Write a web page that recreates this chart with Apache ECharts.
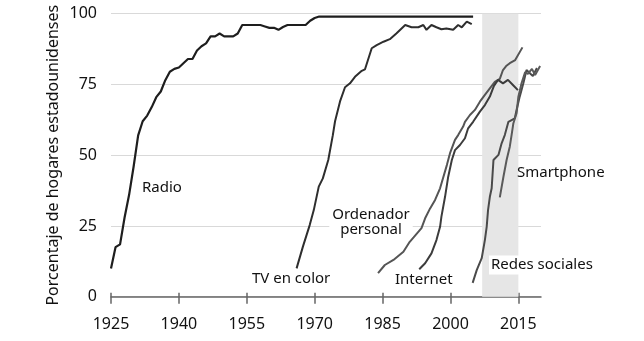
<!DOCTYPE html>
<html><head><meta charset="utf-8">
<script src="https://cdn.jsdelivr.net/npm/echarts@6/dist/echarts.min.js"></script>
<style>html,body{margin:0;padding:0;background:#fff}#c{width:644px;height:341px}</style>
</head><body><div id="c"></div>
<script>
const xTicks = [1925, 1940, 1955, 1970, 1985, 2000, 2015];
const yTicks = [0, 25, 50, 75, 100];
const shadeRange = [2007, 2015];
const yTitle = 'Porcentaje de hogares estadounidenses';

const radio = [[1925,10],[1926,17.5],[1927,18.5],[1928,28],[1929,36],[1930,46],[1931,57],[1932,62],[1933,64],[1934,67],[1935,70.5],[1936,72.5],[1937,76.5],[1938,79.5],[1939,80.5],[1940,81],[1941,82.5],[1942,84],[1943,84],[1944,87],[1945,88.5],[1946,89.5],[1947,92],[1948,92],[1949,93],[1950,92],[1951,92],[1952,92],[1953,93],[1954,96],[1958,96],[1959,95.5],[1960,95],[1961,95],[1962,94.3],[1963,95.3],[1964,96],[1968,96],[1969,97.5],[1970,98.5],[1971,99],[2005,99]];
const tvColor = [[1966,10],[1967.4,17.7],[1968.9,25.3],[1969.8,30.6],[1970.9,38.9],[1971.8,41.8],[1973,48.3],[1974,57],[1974.5,62],[1975.6,69],[1976.7,74],[1977.8,75.4],[1978.9,77.7],[1980.4,79.8],[1981.1,80.3],[1982.6,87.8],[1983.7,88.9],[1985.2,90.1],[1986.6,91],[1988.1,93.1],[1990,96],[1991.4,95.2],[1992.9,95.2],[1994,96],[1994.7,94.3],[1995.8,96],[1996.9,95.2],[1998,94.5],[1999.1,94.8],[2000.6,94.3],[2001.7,96],[2002.5,95.2],[2003.6,97.2],[2004.7,96.3]];
const computer = [[1984,8.3],[1985.5,11.2],[1987.4,13],[1989.6,15.9],[1991,19.4],[1993.6,24.2],[1994.4,27.7],[1995.5,31.2],[1996.6,34.2],[1997.7,38.3],[1999.2,46.5],[1999.9,50.7],[2001,55.4],[2001.7,57.1],[2002.8,60.1],[2003.2,61.8],[2004.3,64.2],[2005.4,66],[2006.5,68.9],[2007.6,71.3],[2008.7,73.6],[2009.8,75.9],[2010.9,77],[2011.6,80.1],[2012.3,81.5],[2013.1,82.5],[2014.3,83.6],[2015.9,88.1]];
const internet = [[1993.1,9.7],[1994.4,11.8],[1995.8,15.3],[1996.9,20],[1997.7,24.7],[1998,28.3],[1998.8,35.3],[1999.5,42.4],[2000.3,48.3],[2001,51.8],[2002.1,53.6],[2003.2,56],[2003.9,59.5],[2005,61.8],[2006.5,65.4],[2007.6,67.7],[2008.7,70.7],[2009.6,74.5],[2010.5,76.6],[2011.6,75.4],[2012.7,76.6],[2013.8,74.8],[2014.9,73]];
const social = [[2004.9,4.9],[2005.8,9.4],[2006.9,13.6],[2007.6,20],[2008,24.7],[2008.3,30.6],[2008.7,35.3],[2009.1,38.3],[2009.5,48.3],[2010.6,50.1],[2011.3,54.2],[2012,57.1],[2012.8,61.8],[2014.2,63],[2014.6,66],[2015.3,70.7],[2016.1,75.4],[2016.8,80.1],[2017.6,78.9],[2018.2,78],[2019.1,80.8]];
const smartphone = [[2010.9,35.1],[2011.7,42.4],[2012.4,48.3],[2013.1,53],[2013.5,57.1],[2013.9,61.3],[2014.6,64.8],[2015,70.7],[2015.7,75.4],[2016.5,79.4],[2017.1,78.7],[2018,80.5],[2018.7,78.3],[2019.8,81.5]];

const F = '"Noto Sans", sans-serif';
const chart = echarts.init(document.getElementById('c'), null, {renderer: 'canvas'});

function line(name, data, color, width) {
  return {name, type: 'line', data, symbol: 'none', lineStyle: {color, width}, z: 3, silent: true, animation: false};
}
function label(text, x, y, opts) {
  return Object.assign({type: 'text', x, y, z: 10, silent: true,
    style: Object.assign({text, font: '15px "Noto Sans"', fill: '#111', align: 'left', verticalAlign: 'middle'}, opts || {})});
}
const plain = v => String(v);

chart.setOption({
  animation: false,
  grid: {left: 111, right: 103, top: 13.7, bottom: 44.3},
  xAxis: [{
    type: 'value', min: 1925, max: 2020, interval: 15,
    axisLine: {lineStyle: {color: '#666', width: 1.5}},
    axisTick: {customValues: xTicks, length: 7, lineStyle: {color: '#666', width: 1.5}},
    axisLabel: {customValues: xTicks, formatter: plain, color: '#111', fontSize: 16, fontFamily: F, margin: 20},
    splitLine: {show: false}
  }, {
    type: 'value', min: 1925, max: 2020, interval: 15, position: 'bottom',
    axisLine: {show: false},
    axisTick: {customValues: xTicks, inside: true, length: 4, lineStyle: {color: '#666', width: 1.5}},
    axisLabel: {show: false}, splitLine: {show: false}
  }],
  yAxis: {
    type: 'value', min: 0, max: 100, interval: 25,
    name: yTitle, nameLocation: 'middle', nameGap: 50, nameMoveOverlap: false,
    nameTextStyle: {color: '#111', fontSize: 16, fontFamily: F},
    axisLine: {show: false}, axisTick: {show: false},
    axisLabel: {customValues: yTicks, formatter: plain, color: '#111', fontSize: 16, fontFamily: F, margin: 14},
    splitLine: {lineStyle: {color: '#d9d9d9', width: 1}}
  },
  series: [
    {type: 'line', data: [], z: 1, silent: true,
     markArea: {silent: true, itemStyle: {color: '#e6e6e6'},
       data: [[{xAxis: shadeRange[0], yAxis: 0}, {xAxis: shadeRange[1], yAxis: 100}]]}},
    line('Radio', radio, '#1e1e1e', 2.2),
    line('TV en color', tvColor, '#2e2e2e', 2),
    line('Ordenador personal', computer, '#555', 2),
    line('Internet', internet, '#3c3c3c', 2),
    line('Redes sociales', social, '#4a4a4a', 2),
    line('Smartphone', smartphone, '#5a5a5a', 2)
  ],
  graphic: [
    label('Radio', 142, 188),
    label('TV en color', 252, 279),
    label('Ordenador\npersonal', 371, 222, {align: 'center', lineHeight: 15, backgroundColor: '#fff', padding: [0, 3]}),
    label('Internet', 395, 280),
    label('Redes sociales', 489, 265, {backgroundColor: '#fff', padding: [2, 2]}),
    label('Smartphone', 517, 173)
  ]
});
</script></body></html>
